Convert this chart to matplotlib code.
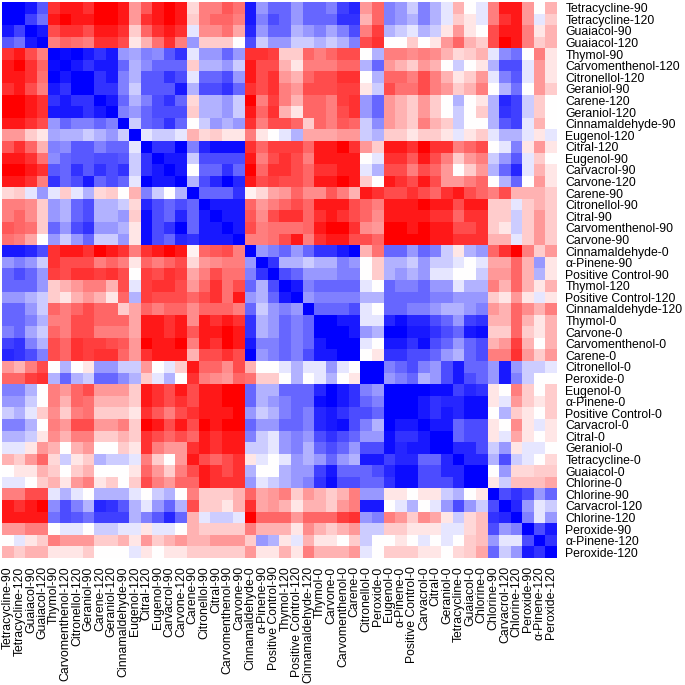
import matplotlib
matplotlib.use('Agg')
import matplotlib.pyplot as plt
import numpy as np

plt.rcParams['font.family'] = ['Liberation Sans', 'DejaVu Sans']

labels = ['Tetracycline-90', 'Tetracycline-120', 'Guaiacol-90', 'Guaiacol-120', 'Thymol-90',
          'Carvomenthenol-120', 'Citronellol-120', 'Geraniol-90', 'Carene-120', 'Geraniol-120',
          'Cinnamaldehyde-90', 'Eugenol-120', 'Citral-120', 'Eugenol-90', 'Carvacrol-90',
          'Carvone-120', 'Carene-90', 'Citronellol-90', 'Citral-90', 'Carvomenthenol-90',
          'Carvone-90', 'Cinnamaldehyde-0', 'α-Pinene-90', 'Positive Control-90', 'Thymol-120',
          'Positive Control-120', 'Cinnamaldehyde-120', 'Thymol-0', 'Carvone-0', 'Carvomenthenol-0',
          'Carene-0', 'Citronellol-0', 'Peroxide-0', 'Eugenol-0', 'α-Pinene-0', 'Positive Control-0',
          'Carvacrol-0', 'Citral-0', 'Geraniol-0', 'Tetracycline-0', 'Guaiacol-0', 'Chlorine-0',
          'Chlorine-90', 'Carvacrol-120', 'Chlorine-120', 'Peroxide-90', 'α-Pinene-120', 'Peroxide-120']

# upper triangle, each row starts at the diagonal. red is positive, blue negative
upper = [
    [-10, -10, -9, -6.5, 8, 9, 9, 8, 10, 10, 9, 4, 6.5, 9, 10, 9, 1.5, 5, 5, 6.5, 5.5, -9, -4, -6, -6, -4, -6, -6, -5, -7.5, -8.5, 4, 6, -5, -4, -2, -5, -3, -1, 3, 0, -1, 5, 9, 9, 4, 0, 3],
    [-10, -7.5, -5.5, 9, 10, 9, 9, 10, 10, 9, 4, 8, 9, 10, 9, 2, 5, 6, 6, 5, -9, -5, -7, -6, -4, -6, -6, -6, -8, -8, 3, 6, -5, -4, -3, -5, -3, -1, 2, 1, -1, 5, 8, 9, 4, -1, 2],
    [-10, -9, 7, 8, 8, 7, 9, 9, 8, 2, 6, 8, 9, 8, -1, 4.5, 4.5, 5.5, 3.5, -8.5, -4, -6, -6, -3, -4, -5, -3.5, -5, -7, 5, 7.5, -3, -2, -1, -3, -2, 1, 4, 1, 0, 7, 9, 9, 5, 1, 3],
    [-10, 5, 6, 5.5, 5, 8, 8, 7, 1, 3, 5.5, 8, 5, -4, 2, 2, 2, 0, -7, -2, -4, -4, -2, -2, -3, -2, -3, -5, 7, 8, 0, 0, 2, 0, 1, 4, 6, 3, 2, 7, 10, 9, 5, 2, 3],
    [-10, -9.5, -10, -9, -8, -9, -4, -3.5, -5, -4.5, -6.5, -8, -1, -4, -4, -6, -4, 8, 8, 7.5, 2, 2, 6, 5, 6, 7, 7, 0, -3, 5, 5, 4.5, 5, 4.5, 3, 1.5, 2, 3, -1, -4.5, -5.5, 0, 5, 1],
    [-10, -9, -8, -9, -9, -6, -3, -4.5, -6, -6, -6, 2, -3, -3, -4, -2, 9, 7, 7, 3, 1, 5, 5, 5, 6, 6, -3, -6, 4, 3, 2, 4, 3, 0, -2, 0, 1, -3, -7, -7, -1, 4, 1],
    [-10, -10, -8, -9, -5, -3, -6.5, -6.5, -8, -7, -1, -6, -6, -7, -4, 9, 7, 8, 4, 3, 6, 7, 7, 8, 8, 0, -3, 6, 6, 5, 7, 5, 3, 1, 2, 4, -1, -5, -6.5, -1, 4, 1],
    [-10, -8, -8, -5, -2, -6.5, -6.5, -6.5, -9, -3, -7, -7, -8, -6, 8, 7, 8, 5, 4, 7, 7, 7, 7.5, 7.5, 1, -2, 7, 5.5, 5.5, 7, 5, 4, 2, 3, 5, 0, -3, -5.5, 0, 4, 2],
    [-10, -9, -6, -3, -5, -7, -8, -6, 1.5, -3, -3, -4, -2, 10, 5, 7.5, 5, 3, 6, 6, 5, 7.5, 8, -4, -6, 4, 3, 2, 4, 2, 0, -3, 0, 1, -3, -8.5, -7.5, -2, 2, 0],
    [-10, -5, -4, -6, -7, -7, -7, 2, -3, -3, -4, -2, 9, 6, 8, 3, 1, 6, 6, 5, 7, 8, -4, -6, 4, 3, 2, 4, 2, 0, -2, 0, 2, -3, -8, -7.5, -2, 2, 0],
    [-10, -2, -6, -6.5, -8, -6, 0, -2, -4, -3, -4, 8, 5, 7, 7, 6, 2, 6, 5, 6.5, 6, -2, -4.5, 4, 3, 2, 5, 3, 2, -2, 0, 0, -3, -6.5, -7.5, -1, 3, 0],
    [-10, -1, -2, -2, -1, 3, 1.5, 2, 1, 1, 5, 1, 0, -1, -3, 3.5, 3.5, 3.5, 4, 4, -2, -3, 2, 2, 1, 2, 2, 1, -1, 1, 2, -1, -3, -3, -1, 1, -1],
    [-10, -8, -8, -10, -5, -8.5, -9.5, -9.5, -9.5, 8, 6, 7.5, 7.5, 7.5, 6, 9, 9, 10, 8, 4, 2, 9, 9, 8, 10, 8, 8, 5, 6, 7, 0, -1, -5, 1, 4, 1],
    [-10, -9, -9, -2, -7, -7, -7, -7, 9, 5, 7, 8, 7, 5, 9, 9, 9, 9, 0, -1, 8, 8, 6.5, 9, 7, 5, 2, 4, 5, -2, -4, -6.5, -1, 2, 0],
    [-10, -9, 0, -6, -6, -8, -6, 10, 6, 8, 8, 7, 6, 8, 8, 9, 9, -1, -3, 7, 7, 5, 7, 6, 4, 0, 2, 4, -3, -6, -8.5, -1, 3, 1],
    [-10, -3, -7, -8.5, -10, -8.5, 9, 7, 7.5, 7, 7, 6, 9, 9, 10, 9, 2, 0, 9, 8, 7, 9, 7, 4, 4, 5, 6, 0, -3, -6, 0, 4, 1],
    [-10, -6, -6, -6, -8, 0.5, 1.5, 3.5, 4, 6, 4.5, 4.5, 6.5, 5, 3, 9, 8, 7, 7, 8, 7, 6, 8, 9, 7, 6, 5, 7, 3, 3, 3, 2],
    [-10, -9, -9, -9, 6, 4, 5, 6, 7, 6, 9, 9, 9, 7, 6, 5, 9, 9, 9, 10, 9, 9, 7, 9, 9, 2, 2, -1, 2, 3, 2],
    [-10, -9, -9, 6.5, 4.5, 7, 8, 8, 6, 8, 9, 8, 7, 6, 4.5, 9, 9, 9, 9, 8, 8, 6, 8, 8, 2, 2, -2, 2, 4, 2],
    [-10, -9, 7, 5, 5.5, 5.5, 5.5, 6, 9, 10, 10, 8, 4.5, 4, 10, 10, 9, 10, 9, 9, 7, 7, 8, 2, 1, -2, 2, 4, 2],
    [-10, 5, 5, 5.5, 7, 9, 5, 8, 9, 9, 7, 7, 6, 10, 10, 10, 10, 9, 9, 8, 8, 8, 3, 3, -1, 2, 4, 2],
    [-10, -4, -5, -6, -4, -6, -8, -8, -9, -10, 3, 5.5, -6, -6, -4, -6, -5, -2, 1, -3, -4, 6, 8, 10, 5, 2, 4],
    [-10, -8, -3, -3, -2, -3, -3, -5, -4, 0, 2, -3, -3, -2, -4, -2, -2, -1, 0, -1, 3.5, 3.5, 6, 3, -4, 1],
    [-10, -7, -6, -4, -4, -4, -5, -5, 0, 2, -3, -4, -3, -4, -1, -1, 0, 0, -2, 4, 4, 6, 3, -3, 1],
    [-10, -9, -5, -6, -6, -6, -6, -1, 0, -6, -5, -5, -6, -4, -4, -1, -3, -3, 5, 3, 6, 3, 1, 3],
    [-10, -4, -5, -5, -5, -5, -3, -3, -6, -6, -6, -6, -5, -5, -4, -4, -4, 2, 1, 4, 1, -1, 1],
    [-10, -6, -6, -6, -7, -1, 0, -6, -6, -5, -5, -4, -3, -3, -4, -5, 4, 3, 6, 4.5, 3, 5],
    [-10, -10, -9, -9, -1, -1, -8.5, -9.5, -8.5, -8.5, -7, -6, -4, -7.5, -8, 3, 3, 6, 3, 1, 3],
    [-10, -10, -9, -4, -3, -10, -10, -9, -9, -8, -7, -6, -9, -9.5, 2, 2, 6, 2, 1, 3],
    [-10, -10, -1, 0, -9, -9, -8, -9.5, -7, -6, -4, -6, -7, 3, 4, 7.5, 3, 0, 3],
    [-10, 0, 1, -8, -8, -7, -7, -6, -4, -3, -6, -7, 5, 5, 8, 4, 2, 4],
    [-10, -10, -5, -6, -7, -5, -4, -7, -9, -6, -6, -4, -9, -4, -2, -2, -1],
    [-10, -4, -5, -6, -3, -4, -7, -9, -7, -6, -4, -9, -5, -2, 0, 0],
    [-10, -10, -10, -10, -9.5, -9.5, -7.5, -8.5, -8, 1, 0, 5, 2, 0, 2],
    [-10, -10, -9, -8, -8.5, -8.5, -9.5, -9.5, 1, -1, 4, 2, 1, 2],
    [-10, -9, -8, -9, -8.5, -9.5, -9.5, 0, -3, 2, 1, 0, 2],
    [-10, -9, -9, -6, -7, -7, 1, 0, 4.5, 1, -1, 1],
    [-10, -10, -6, -7, -7, 1, -1, 3.5, 1, 0, 1],
    [-10, -8.5, -8.5, -7, -2, -4, 1, -1, -1, 0],
    [-10, -8.5, -8.5, -3, -7, -2, -1, 0, 1.5],
    [-10, -10, 0, -4, 1.5, 1.5, 2, 2],
    [-10, 1, -2, 2.5, 2.5, 2.5, 3.5],
    [-10, -7, -8, -7, -4, -6],
    [-10, -8.5, -4, -1, -2],
    [-10, -5, -1, -4],
    [-10, -7, -9],
    [-10, -8],
    [-10],
]

n = len(labels)
mat = np.zeros((n, n))
for i, row in enumerate(upper):
    for k, v in enumerate(row):
        mat[i, i + k] = v
        mat[i + k, i] = v

W = 685
fig = plt.figure(figsize=(6.85, 6.85), dpi=100)
ax = fig.add_axes([2 / W, 1 - 558 / W, 555 / W, 556 / W])
ax.imshow(mat, cmap='bwr', vmin=-10, vmax=10, aspect='auto', interpolation='nearest')

ax.yaxis.tick_right()
ax.set_xticks(range(n))
ax.set_yticks(range(n))
ax.set_xticklabels(labels, rotation=90, fontsize=8.8)
ax.set_yticklabels(labels, fontsize=8.8)
ax.tick_params(length=0, pad=6)
for s in ax.spines.values():
    s.set_visible(False)

fig.savefig('out.png', dpi=100)
